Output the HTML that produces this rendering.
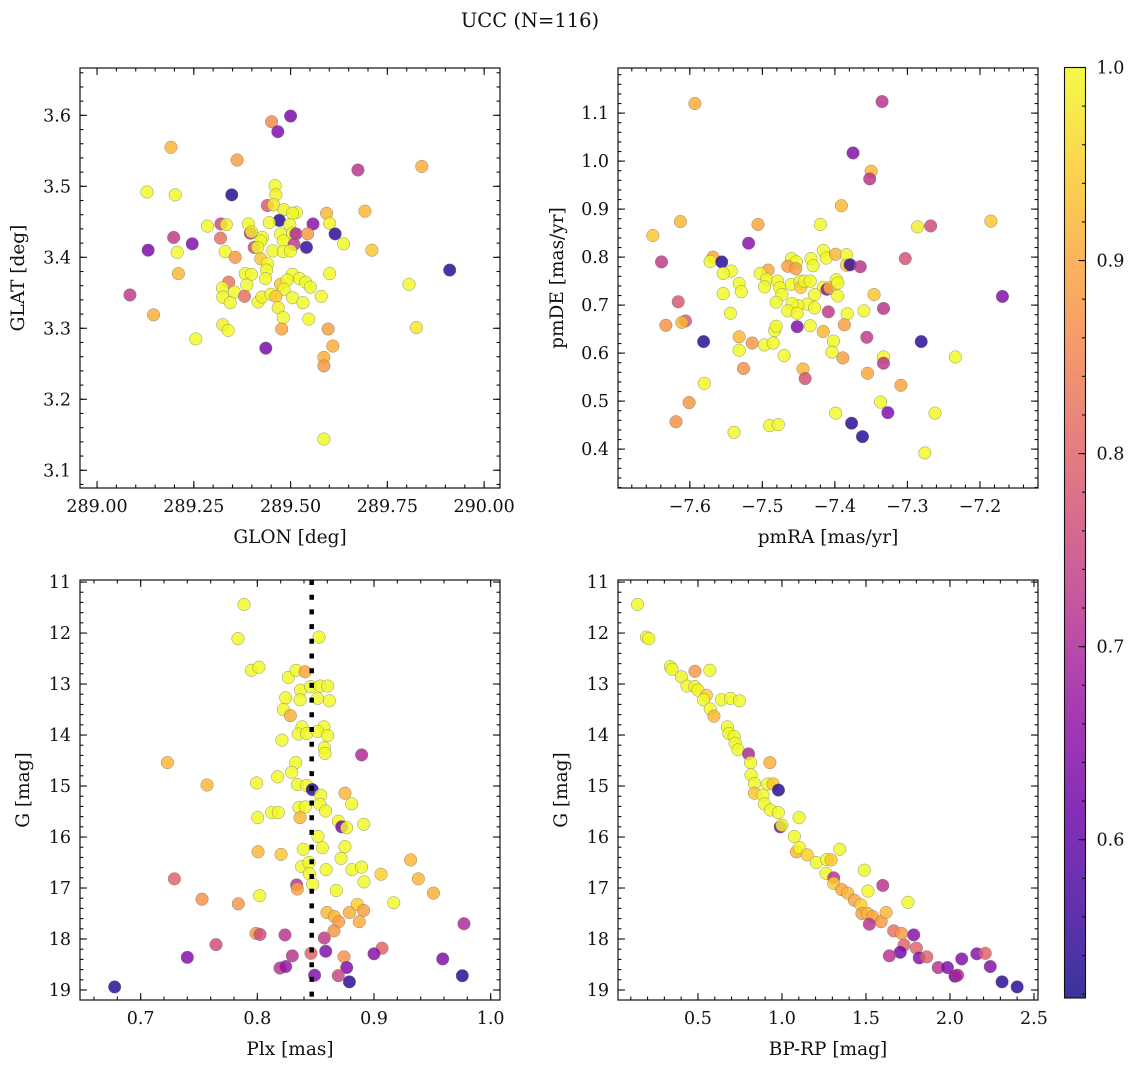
<!DOCTYPE html>
<html><head><meta charset="utf-8"><style>
body{margin:0;background:#fff;}
svg text{font-family:"DejaVu Serif","Liberation Serif",serif;fill:#111;}
</style></head><body>
<svg id="chart" width="1136" height="1067" viewBox="0 0 1136 1067" xmlns="http://www.w3.org/2000/svg">
<defs>
<linearGradient id="cbgrad" x1="0" y1="1" x2="0" y2="0"></linearGradient>
</defs>
<text x="530" y="27" font-size="19.5" text-anchor="middle">UCC (N=116)</text>
</svg>
<script>
// ---------- Panel 1: GLON / GLAT ----------
const glon=[289.500,289.451,289.467,289.191,289.362,289.674,289.839,289.129,289.202,289.348,289.460,289.462,289.440,289.456,289.483,289.515,289.505,289.593,289.692,289.471,289.445,289.498,289.601,289.558,289.285,289.320,289.334,289.391,289.396,289.399,289.427,289.474,289.505,289.514,289.544,289.615,289.198,289.246,289.319,289.423,289.481,289.637,289.406,289.415,289.454,289.481,289.509,289.500,289.541,289.132,289.207,289.331,289.357,289.710,289.423,289.440,289.438,289.435,289.911,289.210,289.383,289.399,289.505,289.601,289.340,289.324,289.355,289.387,289.474,289.491,289.483,289.523,289.539,289.551,289.806,289.085,289.325,289.344,289.381,289.416,289.426,289.449,289.462,289.505,289.532,289.579,289.146,289.468,289.481,289.547,289.255,289.325,289.339,289.477,289.597,289.825,289.436,289.609,289.586,289.586,289.586];
const glat=[3.599,3.591,3.577,3.555,3.537,3.523,3.528,3.492,3.488,3.488,3.501,3.488,3.473,3.474,3.467,3.463,3.462,3.462,3.465,3.452,3.449,3.446,3.448,3.447,3.444,3.447,3.446,3.447,3.434,3.436,3.428,3.433,3.434,3.433,3.433,3.433,3.428,3.419,3.427,3.423,3.423,3.419,3.414,3.414,3.409,3.408,3.418,3.409,3.414,3.410,3.407,3.408,3.400,3.410,3.398,3.391,3.382,3.370,3.382,3.377,3.377,3.376,3.376,3.377,3.365,3.357,3.351,3.361,3.362,3.368,3.355,3.370,3.365,3.358,3.362,3.347,3.344,3.336,3.345,3.337,3.344,3.348,3.345,3.343,3.336,3.345,3.319,3.329,3.315,3.313,3.285,3.305,3.297,3.299,3.299,3.301,3.272,3.275,3.259,3.247,3.144];
const prob1=[.63,.86,.64,.92,.89,.72,.91,1,1,.53,1,.99,.78,.98,.99,1,1,.92,.92,.54,1,1,.99,.65,1,.76,.99,1,.70,.99,1,1,1,.70,.88,.54,.73,.64,.82,1,1,1,.76,1,1,1,.73,1,.55,.63,1,1,.88,.94,.94,1,1,1,.54,.92,1,1,1,1,.83,1,1,1,.94,1,1,1,1,1,1,.73,1,1,.82,1,.99,1,.94,1,1,1,.91,.99,1,1,1,.99,1,.90,.89,.98,.63,.91,.91,.88,1];
const p1xTicks=[289.00,289.25,289.50,289.75,290.00];
const p1xTickLabels=["289.00","289.25","289.50","289.75","290.00"];
const p1yTicks=[3.1,3.2,3.3,3.4,3.5,3.6];
const p1yTickLabels=["3.1","3.2","3.3","3.4","3.5","3.6"];

// ---------- Panel 2: pmRA / pmDE ----------
const pmra=[-7.593,-7.335,-7.375,-7.350,-7.352,-7.391,-7.613,-7.506,-7.420,-7.286,-7.268,-7.185,-7.651,-7.519,-7.639,-7.568,-7.572,-7.556,-7.543,-7.554,-7.460,-7.453,-7.465,-7.454,-7.433,-7.430,-7.416,-7.412,-7.399,-7.384,-7.384,-7.379,-7.365,-7.303,-7.492,-7.503,-7.494,-7.497,-7.479,-7.476,-7.473,-7.460,-7.448,-7.447,-7.442,-7.434,-7.416,-7.411,-7.407,-7.398,-7.396,-7.396,-7.428,-7.438,-7.451,-7.459,-7.465,-7.452,-7.428,-7.481,-7.532,-7.529,-7.554,-7.544,-7.532,-7.532,-7.514,-7.497,-7.485,-7.483,-7.481,-7.452,-7.434,-7.409,-7.383,-7.387,-7.416,-7.402,-7.404,-7.389,-7.360,-7.346,-7.333,-7.356,-7.281,-7.333,-7.333,-7.234,-7.616,-7.606,-7.611,-7.633,-7.581,-7.169,-7.470,-7.526,-7.444,-7.441,-7.355,-7.309,-7.580,-7.601,-7.619,-7.539,-7.490,-7.478,-7.399,-7.337,-7.327,-7.377,-7.362,-7.262,-7.276];
const pmde=[1.120,1.124,1.017,0.979,0.963,0.907,0.874,0.868,0.868,0.863,0.865,0.875,0.845,0.829,0.790,0.800,0.791,0.790,0.771,0.766,0.797,0.790,0.781,0.776,0.797,0.782,0.814,0.798,0.806,0.805,0.783,0.784,0.780,0.797,0.773,0.766,0.754,0.738,0.750,0.736,0.722,0.743,0.750,0.737,0.750,0.750,0.737,0.733,0.736,0.753,0.746,0.719,0.722,0.702,0.699,0.703,0.688,0.683,0.694,0.706,0.745,0.728,0.724,0.683,0.634,0.606,0.621,0.617,0.621,0.647,0.656,0.655,0.657,0.686,0.682,0.659,0.645,0.625,0.602,0.590,0.688,0.722,0.693,0.633,0.624,0.592,0.579,0.592,0.707,0.667,0.664,0.658,0.624,0.718,0.595,0.568,0.567,0.547,0.558,0.533,0.537,0.497,0.457,0.435,0.449,0.451,0.475,0.498,0.476,0.454,0.426,0.475,0.392];
const prob2=[.91,.72,.64,.92,.72,.92,.92,.90,1,.99,.76,.94,.94,.65,.73,.90,1,.54,1,1,1,1,.89,.89,1,1,1,1,.92,1,.95,.55,.72,.77,.90,1,1,1,1,1,1,1,1,.95,1,1,1,.65,.92,1,1,1,1,1,1,1,1,1,1,1,1,1,1,1,.92,1,.88,1,1,1,1,.64,1,.73,1,.89,.92,1,1,.89,1,.94,.72,.73,.54,1,.72,1,.78,.78,.92,.87,.54,.64,1,.87,.92,.77,.90,.90,1,.88,.87,1,1,1,1,1,.64,.54,.54,1,1];
const p2xTicks=[-7.6,-7.5,-7.4,-7.3,-7.2];
const p2xTickLabels=["\u22127.6","\u22127.5","\u22127.4","\u22127.3","\u22127.2"];
const p2yTicks=[0.4,0.5,0.6,0.7,0.8,0.9,1.0,1.1];
const p2yTickLabels=["0.4","0.5","0.6","0.7","0.8","0.9","1.0","1.1"];

// ---------- Panel 3: Plx / G ----------
const plx=[0.7886,0.7834,0.8529,0.7949,0.8014,0.8266,0.8331,0.8409,0.8371,0.8457,0.8537,0.8603,0.8243,0.8366,0.8517,0.8617,0.8223,0.8283,0.8383,0.8571,0.8351,0.8423,0.8517,0.8603,0.8211,0.8574,0.8580,0.8894,0.7229,0.8329,0.8294,0.8174,0.7569,0.7994,0.8343,0.8423,0.8471,0.8543,0.8751,0.8537,0.8809,0.8123,0.8180,0.8357,0.8411,0.8586,0.8003,0.8366,0.8694,0.8723,0.8766,0.8911,0.8520,0.8006,0.8203,0.8394,0.8557,0.8751,0.8717,0.9314,0.8380,0.8443,0.8589,0.8811,0.8894,0.8446,0.9060,0.7289,0.9380,0.8914,0.8474,0.8337,0.8343,0.8677,0.9509,0.8020,0.7526,0.7837,0.8857,0.9169,0.8597,0.8789,0.8911,0.8660,0.8697,0.8874,0.9771,0.8657,0.7989,0.8023,0.8237,0.8574,0.7646,0.9069,0.8586,0.9000,0.7400,0.8300,0.8460,0.8743,0.9589,0.8194,0.8243,0.8766,0.8694,0.8491,0.8789,0.9757,0.6777];
const gmag3=[11.44,12.11,12.08,12.73,12.67,12.87,12.73,12.76,13.12,13.05,13.04,13.04,13.27,13.31,13.28,13.33,13.50,13.62,13.84,13.84,13.98,13.97,13.93,14.01,14.10,14.25,14.36,14.39,14.54,14.54,14.73,14.82,14.98,14.94,14.97,14.99,15.07,15.18,15.14,15.36,15.35,15.52,15.52,15.42,15.41,15.49,15.62,15.62,15.69,15.80,15.82,15.75,15.99,16.29,16.34,16.24,16.21,16.19,16.42,16.45,16.58,16.50,16.64,16.64,16.59,16.72,16.73,16.82,16.82,16.88,16.93,16.94,17.02,17.05,17.10,17.15,17.22,17.31,17.32,17.29,17.48,17.48,17.44,17.56,17.66,17.66,17.70,17.84,17.89,17.91,17.92,17.98,18.11,18.18,18.24,18.29,18.36,18.33,18.28,18.35,18.39,18.57,18.54,18.56,18.72,18.71,18.84,18.72,18.94];
const prob3=[1,1,1,1,1,1,1,.90,1,1,1,1,1,1,1,1,1,.91,1,1,1,1,1,1,1,1,1,.70,.92,1,1,1,.92,1,1,1,.54,1,.92,1,1,1,1,1,1,1,1,.92,1,.62,1,1,1,.92,.94,1,1,1,1,.92,1,1,1,1,1,1,.95,.80,.92,1,1,.72,.90,1,.91,1,.87,.88,.95,1,.92,.91,.89,.92,.89,.91,.70,.88,.88,.76,.72,.73,.76,.80,.64,.65,.64,.72,.80,.87,.64,.72,.67,.64,.75,.64,.54,.54,.54];
const p3xTicks=[0.7,0.8,0.9,1.0];
const p3xTickLabels=["0.7","0.8","0.9","1.0"];
const p3yTicks=[11,12,13,14,15,16,17,18,19];
const p3yTickLabels=["11","12","13","14","15","16","17","18","19"];
const plxMean=[0.8466];

// ---------- Panel 4: BP-RP / G ----------
const bprp=[0.140,0.193,0.207,0.336,0.346,0.482,0.571,0.401,0.435,0.481,0.500,0.550,0.533,0.639,0.694,0.747,0.573,0.595,0.675,0.684,0.715,0.721,0.738,0.801,0.813,0.928,0.816,0.836,0.915,0.947,0.979,0.836,0.887,0.895,0.931,0.978,0.990,1.000,1.074,1.102,1.086,1.105,1.150,1.205,1.266,1.292,1.344,1.262,1.308,1.308,1.355,1.391,1.431,1.470,1.490,1.512,1.476,1.510,1.540,1.590,1.620,1.600,1.750,1.520,1.665,1.712,1.784,1.727,1.704,1.639,1.800,1.817,1.862,1.930,1.985,2.030,2.045,2.070,2.160,2.210,2.240,2.310,2.400];
const gmag4=[11.44,12.08,12.11,12.66,12.71,12.75,12.73,12.86,13.04,13.05,13.12,13.22,13.31,13.31,13.28,13.33,13.49,13.63,13.84,13.97,14.03,14.16,14.29,14.37,14.54,14.54,14.78,14.95,14.96,14.96,15.08,15.14,15.18,15.35,15.47,15.52,15.80,15.77,15.99,15.62,16.29,16.21,16.35,16.50,16.44,16.45,16.24,16.71,16.80,16.91,17.03,17.10,17.24,17.33,16.65,17.06,17.50,17.50,17.56,17.66,17.48,16.95,17.28,17.71,17.84,17.89,17.92,18.12,18.26,18.33,18.18,18.37,18.35,18.56,18.56,18.73,18.71,18.39,18.29,18.28,18.54,18.84,18.94];
const prob4=[1,1,1,1,1,.88,1,.99,1,.99,1,.95,1,1,1,1,1,.92,1,1,1,1,1,.70,1,.91,1,1,1,.94,.54,.94,1,1,1,1,.62,1,1,1,.92,1,.95,1,1,.94,1,1,.72,.95,.90,.92,.90,.95,1,1,.89,.92,.90,.88,.92,.72,1,.72,.82,.88,.65,.80,.62,.72,.80,.65,.80,.72,.64,.60,.70,.64,.65,.80,.65,.54,.54];
const p4xTicks=[0.5,1.0,1.5,2.0,2.5];
const p4xTickLabels=["0.5","1.0","1.5","2.0","2.5"];
const p4yTicks=[11,12,13,14,15,16,17,18,19];
const p4yTickLabels=["11","12","13","14","15","16","17","18","19"];

// ---------- Colorbar ----------
const cbTicks=[0.6,0.7,0.8,0.9,1.0];
const cbTickLabels=["0.6","0.7","0.8","0.9","1.0"];
const cMin=0.518, cMax=1.0;

const NS="http://www.w3.org/2000/svg";
const svg=document.getElementById('chart');
function mk(tag,attrs,parent){const e=document.createElementNS(NS,tag);for(const k in attrs)e.setAttribute(k,attrs[k]);(parent||svg).appendChild(e);return e;}
const plasma=["#0d0887","#41049d","#6a00a8","#8f0da4","#b12a90","#cc4778","#e16462","#f2844b","#fca636","#fcce25","#f0f921"];
function hex(h){return [parseInt(h.substr(1,2),16),parseInt(h.substr(3,2),16),parseInt(h.substr(5,2),16)];}
function cmap(t){t=Math.max(0,Math.min(1,t));const s=t*10;const i=Math.min(9,Math.floor(s));const f=s-i;const a=hex(plasma[i]),b=hex(plasma[i+1]);return "rgb("+a.map((v,k)=>Math.round(v+(b[k]-v)*f)).join(",")+")";}
function colorOf(v){return cmap((v-cMin)/(cMax-cMin));}

const grad=document.getElementById('cbgrad');
for(let i=0;i<=20;i++){mk('stop',{offset:(i/20),'stop-color':cmap(i/20),'stop-opacity':0.82},grad);}

function panel(o){
  const g=mk('g',{});
  
  
  const X=v=>o.x0+(v-o.xd[0])/(o.xd[1]-o.xd[0])*o.w;
  const Y=v=>o.y0+(v-o.yd[0])/(o.yd[1]-o.yd[0])*o.h;
  const pg=mk('g',{},g);
  
  
  for(let i=0;i<o.xs.length;i++){
    const c=mk('circle',{cx:X(o.xs[i]),cy:Y(o.ys[i]),r:6.3,fill:colorOf(o.cs[i]),'fill-opacity':0.82,stroke:'#777','stroke-width':0.5,'stroke-opacity':0.8},pg);
    
    
  }
  if(o.vline){
    const l=mk('line',{x1:X(o.vline[0]),x2:X(o.vline[0]),y1:o.y0,y2:o.y0+o.h,stroke:'#000','stroke-width':4.5,'stroke-dasharray':'5 9.7'},g);
    
    
  }
  const fr=mk('rect',{x:o.x0,y:o.y0,width:o.w,height:o.h,fill:'none',stroke:'#111','stroke-width':1.2},g);
  
  
  const tg=mk('g',{stroke:'#111','stroke-width':1.1},g);
  function xt(v,len){const x=X(v);if(x<o.x0-0.5||x>o.x0+o.w+0.5)return;mk('line',{x1:x,x2:x,y1:o.y0+o.h,y2:o.y0+o.h-len},tg);mk('line',{x1:x,x2:x,y1:o.y0,y2:o.y0+len},tg);}
  function yt(v,len){const y=Y(v);if(y<Math.min(o.y0,o.y0+o.h)-0.5||y>o.y0+o.h+0.5)return;mk('line',{x1:o.x0,x2:o.x0+len,y1:y,y2:y},tg);mk('line',{x1:o.x0+o.w,x2:o.x0+o.w-len,y1:y,y2:y},tg);}
  const lo=Math.min(...o.xd),hi=Math.max(...o.xd);
  for(let v=Math.ceil(lo/o.xm)*o.xm;v<=hi;v+=o.xm)xt(v,3.5);
  const ylo=Math.min(...o.yd),yhi=Math.max(...o.yd);
  for(let v=Math.ceil(ylo/o.ym)*o.ym;v<=yhi;v+=o.ym)yt(v,3.5);
  o.xt.forEach((v,i)=>{xt(v,7);const t=mk('text',{x:X(v),y:o.y0+o.h+24,'font-size':17.5,'text-anchor':'middle'},g);t.textContent=o.xl[i];});
  o.yt.forEach((v,i)=>{yt(v,7);const t=mk('text',{x:o.x0-9,y:Y(v)+6,'font-size':17.5,'text-anchor':'end'},g);t.textContent=o.yl[i];});
  const xa=mk('text',{x:o.x0+o.w/2,y:o.y0+o.h+55,'font-size':18.5,'text-anchor':'middle'},g);xa.textContent=o.xtitle;
  
  const yx=o.ytx, yy=o.y0+o.h/2;
  const ya=mk('text',{x:yx,y:yy,'font-size':18.5,'text-anchor':'middle',transform:'rotate(-90 '+yx+' '+yy+')'},g);ya.textContent=o.ytitle;
  
}

panel({name:'glon-glat-panel',x0:80,y0:68,w:420,h:420,xd:[288.956,290.041],yd:[3.6667,3.075],xs:glon,ys:glat,cs:prob1,xt:p1xTicks,xl:p1xTickLabels,yt:p1yTicks,yl:p1yTickLabels,xm:0.05,ym:0.02,xtitle:'GLON [deg]',ytitle:'GLAT [deg]',ytx:24});
panel({name:'pm-panel',x0:618,y0:68,w:420,h:420,xd:[-7.699,-7.120],yd:[1.194,0.319],xs:pmra,ys:pmde,cs:prob2,xt:p2xTicks,xl:p2xTickLabels,yt:p2yTicks,yl:p2yTickLabels,xm:0.02,ym:0.02,xtitle:'pmRA [mas/yr]',ytitle:'pmDE [mas/yr]',ytx:563});
panel({name:'plx-g-panel',x0:80,y0:580,w:420,h:420,xd:[0.648,1.008],yd:[10.96,19.196],xs:plx,ys:gmag3,cs:prob3,xt:p3xTicks,xl:p3xTickLabels,yt:p3yTicks,yl:p3yTickLabels,xm:0.02,ym:0.2,xtitle:'Plx [mas]',ytitle:'G [mag]',ytx:29,vline:plxMean});
panel({name:'cmd-panel',x0:618,y0:580,w:420,h:420,xd:[0.024,2.524],yd:[10.96,19.196],xs:bprp,ys:gmag4,cs:prob4,xt:p4xTicks,xl:p4xTickLabels,yt:p4yTicks,yl:p4yTickLabels,xm:0.1,ym:0.2,xtitle:'BP-RP [mag]',ytitle:'G [mag]',ytx:567});

const cb=mk('g',{});


const cbx=1064.5,cby=67.5,cbw=21,cbh=930.5;
mk('rect',{x:cbx,y:cby,width:cbw,height:cbh,fill:'url(#cbgrad)',stroke:'#111','stroke-width':1.1},cb);
const CY=v=>cby+(cMax-v)/(cMax-cMin)*cbh;
for(let v=0.52;v<1.0;v+=0.02){mk('line',{x1:cbx+cbw,x2:cbx+cbw-3.5,y1:CY(v),y2:CY(v),stroke:'#111','stroke-width':1.1},cb);}
cbTicks.forEach((v,i)=>{mk('line',{x1:cbx+cbw,x2:cbx+cbw-7,y1:CY(v),y2:CY(v),stroke:'#111','stroke-width':1.1},cb);
 const t=mk('text',{x:cbx+cbw+11,y:CY(v)+6,'font-size':17.5},cb);t.textContent=cbTickLabels[i];
 });
</script>
</body></html>
